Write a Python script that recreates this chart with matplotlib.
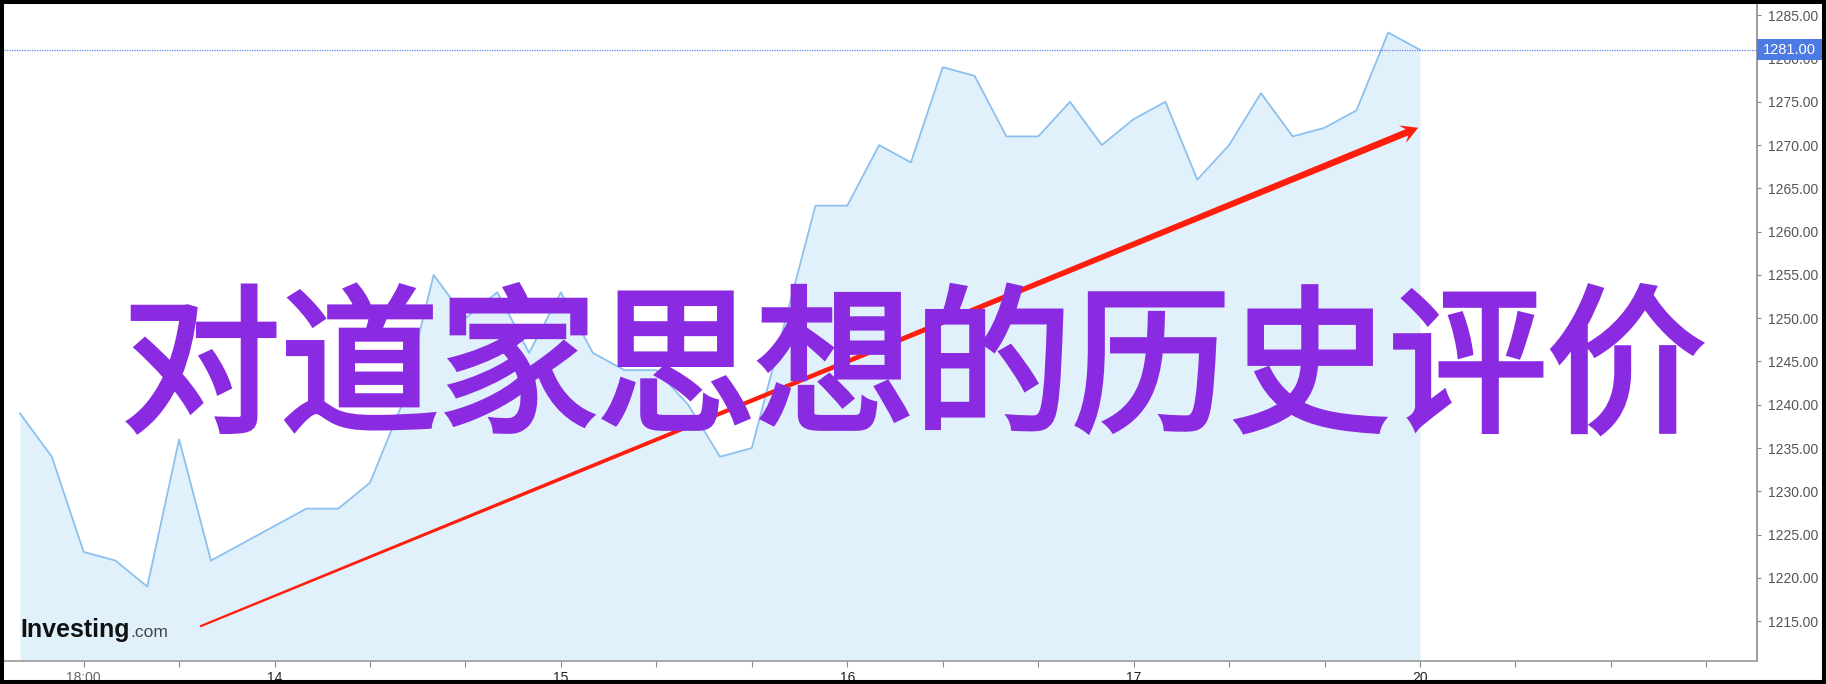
import numpy as np
import matplotlib
matplotlib.use("Agg")
from matplotlib import pyplot as plt
from matplotlib import font_manager
from matplotlib import patheffects
from matplotlib.patches import Polygon, Rectangle
import matplotlib.transforms as mtransforms

# price series (one point per bar)
prices = [1239, 1234, 1223, 1222, 1219, 1236, 1222, 1224, 1226, 1228,
          1228, 1231, 1240, 1255, 1250, 1253, 1246, 1253, 1246, 1244,
          1244, 1240, 1234, 1235, 1249, 1263, 1263, 1270, 1268, 1279,
          1278, 1271, 1271, 1275, 1270, 1273, 1275, 1266, 1270, 1276,
          1271, 1272, 1274, 1283, 1281]
last_price = 1281.00

# x axis: tick every 3 bars, only some carry text
tick_step = 3
tick_first = 2
label_pos = [2, 8, 17, 26, 35, 44]
label_txt = ['18:00', '14', '15', '16', '17', '20']

y_ticks = [1215, 1220, 1225, 1230, 1235, 1240, 1245, 1250, 1255, 1260,
           1265, 1270, 1275, 1280, 1285]

title = '对道家思想的历史评价'

# trend arrow, in bar / price units
arrow_start = (5.66, 1214.4)
arrow_end = (43.94, 1272.0)

W, H = 1826, 684
fig = plt.figure(figsize=(W / 100, H / 100), dpi=100)
fig.patch.set_facecolor('white')

ax = fig.add_axes([4 / W, (H - 661) / H, (1757 - 4) / W, (661 - 4) / H])
ax.set_facecolor('white')

x = np.arange(len(prices))
ymin, ymax = 1210.4, 1286.3
ax.set_xlim(-0.503, 54.59)
ax.set_ylim(ymin, ymax)

ax.fill_between(x, prices, ymin, color='#e1f1fb', lw=0, zorder=1)
ax.plot(x, prices, color='#8cc0ee', lw=1.3, zorder=2)

# last price dotted line + marker box
ax.axhline(last_price, color='#5b86e5', lw=0.9, ls=(0, (1, 1)), zorder=2)
blend = mtransforms.blended_transform_factory(ax.transAxes, ax.transData)
ax.add_patch(Rectangle((1.0, last_price - 1.2), 66 / 1753, 2.4,
                       transform=blend, clip_on=False, fc='#4d7be3', ec='none', zorder=6))
ax.text(1.0 + 6 / 1753, last_price, f'{last_price:.2f}', transform=blend,
        ha='left', va='center', color='white', fontsize=10.5,
        family='Liberation Sans', zorder=7, clip_on=False)

# spines / ticks
for s in ['top', 'left']:
    ax.spines[s].set_visible(False)
ax.spines['bottom'].set_color('#9a9a9a')
ax.spines['right'].set_color('#8a8a8a')
ax.spines['bottom'].set_linewidth(1.2)
ax.spines['right'].set_linewidth(1.2)

ax.yaxis.tick_right()
ax.set_yticks(y_ticks)
ax.set_yticklabels([f'{v:.2f}' for v in y_ticks])
ax.tick_params(axis='y', direction='out', length=3, width=0.8, color='#8a8a8a',
               pad=5, labelsize=10, labelcolor='#555555')
for lab in ax.get_yticklabels():
    lab.set_family('Liberation Sans')

narrow = 'Liberation Sans Narrow'
names = {f.name for f in font_manager.fontManager.ttflist}
xfont = narrow if narrow in names else 'Liberation Sans'
xsize = 11 if xfont == narrow else 10

all_ticks = list(range(tick_first, 54, tick_step))
ax.set_xticks(all_ticks)
lab_map = dict(zip(label_pos, label_txt))
ax.set_xticklabels([lab_map.get(t, '') for t in all_ticks])
ax.tick_params(axis='x', direction='out', length=4, width=0.8, color='#8a8a8a',
               pad=3, labelsize=xsize)
for t, lab in zip(all_ticks, ax.get_xticklabels()):
    lab.set_family(xfont)
    lab.set_color('#666666' if ':' in lab_map.get(t, '') else '#222222')

# tapered red arrow built in pixel space
p0 = ax.transData.transform(arrow_start)
p1 = ax.transData.transform(arrow_end)
d = (p1 - p0) / np.hypot(*(p1 - p0))
n = np.array([-d[1], d[0]])
w0, w1 = 1.1, 3.4
head_len, head_half, notch = 17, 9.5, 12
base = p1 - notch * d
pts = [p0 + w0 * n, base + w1 * n, p1 - head_len * d + head_half * n, p1,
       p1 - head_len * d - head_half * n, base - w1 * n, p0 - w0 * n]
pts = ax.transData.inverted().transform(np.array(pts))
ax.add_patch(Polygon(pts, closed=True, fc='#ff1e0e', ec='none', zorder=9))

# big title overlay (regular face thickened a bit to medium weight)
purple = '#8a2be2'
fig.text(914 / W, (H - 419) / H, title, ha='center', va='baseline',
         fontsize=114, color=purple,
         family=['Noto Sans CJK SC', 'DejaVu Sans'], zorder=8,
         path_effects=[patheffects.withStroke(linewidth=3.6, foreground=purple,
                                              joinstyle='miter', capstyle='projecting')])

# logo
fig.text(20 / W, (H - 636.7) / H, 'Investing', ha='left', va='baseline',
         fontsize=18, fontweight='bold', color='#111111', family='Liberation Sans', zorder=8)
fig.text(130 / W, (H - 636.7) / H, '.com', ha='left', va='baseline',
         fontsize=12.5, color='#444444', family='Liberation Sans', zorder=8)

# black frame around the picture
fig.add_artist(Rectangle((0, 0), 1, 1, transform=fig.transFigure, fill=False,
                         ec='black', lw=5.8, zorder=20))

fig.savefig('out.png', dpi=100, facecolor='white')
